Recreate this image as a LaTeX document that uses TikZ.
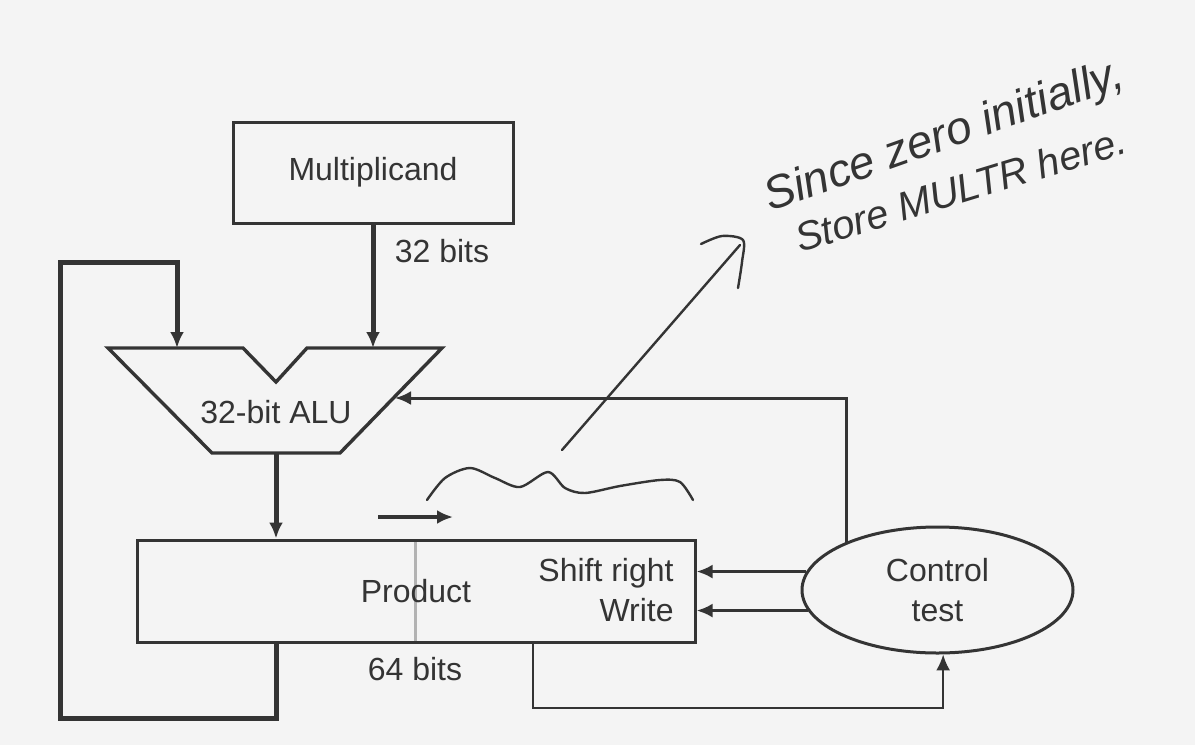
\documentclass[tikz,border=0pt]{standalone}
\usepackage{fontspec}
\setmainfont{Liberation Sans}
\usetikzlibrary{positioning, shapes.geometric, arrows.meta}
\definecolor{ink}{HTML}{343434}
\definecolor{paper}{HTML}{F4F4F4}

\tikzset{
  unit/.style={draw=ink, line width=1.5pt, text=ink, font=\fontsize{16}{19}\selectfont, inner sep=0pt},
  lbl/.style={text=ink, font=\fontsize{16}{19}\selectfont, inner sep=0pt},
  bus/.style={draw=ink, line width=2.5pt, ->},
  ctl/.style={draw=ink, line width=1.8pt, ->},
  thin/.style={draw=ink, line width=1pt, ->},
  hand/.style={draw=ink, line width=1.2pt, line cap=round, line join=round},
  note/.style={text=ink, inner sep=0pt, anchor=base west},
}

\begin{document}
\begin{tikzpicture}[x=0.5pt, y=-0.5pt, >={Latex[length=8pt,width=7pt]}]
        % paper
        \fill[paper] (0,0) rectangle (1195,745);
        \useasboundingbox (0,0) rectangle (1195,745);

        % registers and control
        \node[unit, rectangle, minimum width=140pt, minimum height=50.5pt] (mcand) at (373,172.5) {Multiplicand};
        \draw[gray!60, line width=1.5pt] (415,540) -- (415,642);
        \node[unit, rectangle, minimum width=279pt, minimum height=51pt] (prod) at (416,591) {Product};
        \node[lbl, anchor=east] (shr) at (674,573) {Shift right};
        \node[lbl, anchor=east] (wr) at (674,610) {Write};
        \node[unit, ellipse, minimum width=135.5pt, minimum height=63pt, align=center] (ctrl) at (937.5,590)
             {Control\\[1pt]test};

        % the ALU
        \coordinate (aluA) at (177,348);
        \coordinate (aluB) at (373,348);
        \coordinate (aluC) at (395,398);
        \coordinate (aluout) at (276,453);
        \draw[ink, line width=1.7pt, line join=miter]
              (108,348) -- (243,348) -- (276,382) -- (307,348) -- (442,348)
              -- (340,453) -- (212,453) -- cycle;
        \node[lbl] (alu) at (276,412) {32-bit ALU};

        % labels
        \node[lbl] (w32) at (442,251) {32 bits};
        \node[lbl] (w64) at (415,669) {64 bits};

        % data paths
        \coordinate (loopc) at (60,262);
        \coordinate (pout) at (533,0);
        \draw[bus] (mcand.south -| aluB) -- (aluB);
        \draw[bus] (aluout) -- (aluout |- prod.north);
        \draw[bus, line join=miter] (prod.south -| aluout) -- ++(0,75) -| (loopc) -| (aluA);
        \draw[ctl] (ctrl.172) -- (ctrl.172 -| prod.east);
        \draw[ctl] (ctrl.189) -- (ctrl.189 -| prod.east);
        \draw[ctl, line width=1.5pt] (ctrl.152) |- (aluC);
        \draw[thin] (prod.south -| pout) -- ++(0,64) -| (ctrl.-85);
        \draw[ctl, line width=2pt] (378,517) -- (453,517);

        % handwritten note
        \draw[hand] plot[smooth] coordinates {(427,500) (445,478) (470,468) (495,478) (520,487) (548,472) (565,488) (585,493) (620,486) (660,480) (680,482) (693,500)};
        \draw[hand] (562,450) -- (740,245);
        \draw[hand] plot[smooth] coordinates {(701,244) (722,236) (743,240) (742,262) (738,288)};
        \node[note, rotate=19.5, font=\fontsize{23}{26}\selectfont\itshape] (memo1) at (770,212) {Since zero initially,};
        \node[note, rotate=17, font=\fontsize{20}{24}\selectfont\itshape] (memo2) at (800,253) {Store MULTR here.};
    \end{tikzpicture}
\end{document}
